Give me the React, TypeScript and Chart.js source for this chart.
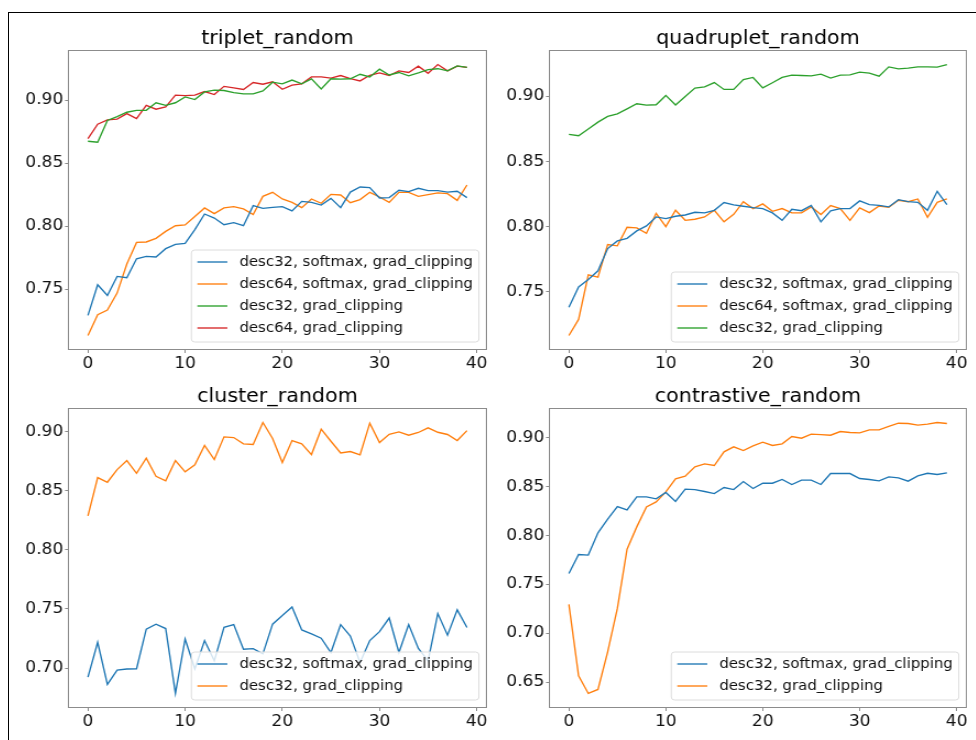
import React, { useEffect, useRef } from "react";
import { Chart, registerables } from "chart.js";

Chart.register(...registerables);

const FONT = "'DejaVu Sans', 'Liberation Sans', sans-serif";

const EPOCHS = [0, 1, 2, 3, 4, 5, 6, 7, 8, 9, 10, 11, 12, 13, 14, 15, 16, 17, 18, 19, 20, 21, 22, 23, 24, 25, 26, 27, 28, 29, 30, 31, 32, 33, 34, 35, 36, 37, 38, 39];
const X_TICKS = [0, 10, 20, 30, 40];

const LABEL_D32_SM = "desc32, softmax, grad_clipping";
const LABEL_D64_SM = "desc64, softmax, grad_clipping";
const LABEL_D32 = "desc32, grad_clipping";
const LABEL_D64 = "desc64, grad_clipping";

// triplet_random
const TL_BLUE = [0.7294, 0.7537, 0.7452, 0.7603, 0.7593, 0.7743, 0.7762, 0.7757, 0.7823, 0.7857, 0.7865, 0.7974, 0.8098, 0.8066, 0.8013, 0.8029, 0.8005, 0.8164, 0.8143, 0.8151, 0.8156, 0.8122, 0.8198, 0.819, 0.8169, 0.8222, 0.8148, 0.8272, 0.8312, 0.8307, 0.8225, 0.8228, 0.8286, 0.8275, 0.8302, 0.8283, 0.8283, 0.8272, 0.8278, 0.8228];
const TL_ORANGE = [0.7135, 0.7299, 0.7336, 0.7471, 0.7701, 0.7873, 0.7876, 0.7905, 0.796, 0.8005, 0.8011, 0.8079, 0.8146, 0.8101, 0.8146, 0.8156, 0.8138, 0.8093, 0.8238, 0.827, 0.8217, 0.819, 0.8148, 0.8217, 0.8183, 0.8254, 0.8249, 0.8188, 0.8212, 0.827, 0.8233, 0.819, 0.827, 0.827, 0.8238, 0.8251, 0.8265, 0.8259, 0.8206, 0.8328];
const TL_GREEN = [0.8675, 0.8667, 0.884, 0.887, 0.8905, 0.892, 0.892, 0.898, 0.896, 0.898, 0.9026, 0.9005, 0.9066, 0.908, 0.9077, 0.906, 0.905, 0.905, 0.9074, 0.9143, 0.913, 0.916, 0.913, 0.917, 0.909, 0.917, 0.9167, 0.917, 0.9206, 0.9185, 0.9246, 0.92, 0.922, 0.9193, 0.9217, 0.9243, 0.925, 0.9233, 0.9272, 0.926];
const TL_RED = [0.8696, 0.881, 0.8844, 0.885, 0.8894, 0.8854, 0.896, 0.8929, 0.8947, 0.904, 0.9037, 0.904, 0.9069, 0.9045, 0.911, 0.9098, 0.9085, 0.914, 0.9127, 0.9146, 0.9087, 0.912, 0.913, 0.9185, 0.9185, 0.9175, 0.9196, 0.9172, 0.9153, 0.9198, 0.9217, 0.9196, 0.9233, 0.922, 0.927, 0.9214, 0.9283, 0.9233, 0.927, 0.926];
const TL_Y_TICKS = [0.75, 0.8, 0.85, 0.9];

// quadruplet_random
const TR_BLUE = [0.7382, 0.7538, 0.7594, 0.7661, 0.7832, 0.7891, 0.7911, 0.7968, 0.8006, 0.8075, 0.8062, 0.808, 0.809, 0.8111, 0.8106, 0.8126, 0.8185, 0.8167, 0.8157, 0.8146, 0.8139, 0.8106, 0.8049, 0.8134, 0.8123, 0.8164, 0.8037, 0.8121, 0.8139, 0.8139, 0.8198, 0.8169, 0.8164, 0.8152, 0.8208, 0.8192, 0.8187, 0.8126, 0.8272, 0.8169];
const TR_ORANGE = [0.7165, 0.7288, 0.763, 0.7612, 0.7863, 0.7853, 0.7996, 0.7991, 0.795, 0.8103, 0.8001, 0.8126, 0.8049, 0.8057, 0.8075, 0.8126, 0.8037, 0.8095, 0.8192, 0.8139, 0.8175, 0.8118, 0.8139, 0.8106, 0.8106, 0.8152, 0.8093, 0.8162, 0.8139, 0.8049, 0.8144, 0.8108, 0.8159, 0.8149, 0.8203, 0.8192, 0.8213, 0.8072, 0.8187, 0.8213];
const TR_GREEN = [0.8709, 0.8698, 0.875, 0.8803, 0.8847, 0.8867, 0.8905, 0.8944, 0.8934, 0.8936, 0.9008, 0.8934, 0.9, 0.9064, 0.9074, 0.9107, 0.9054, 0.9054, 0.913, 0.9146, 0.9066, 0.9105, 0.9146, 0.9164, 0.9161, 0.9158, 0.9171, 0.9141, 0.9164, 0.9166, 0.9187, 0.9179, 0.9156, 0.9227, 0.9212, 0.9217, 0.9227, 0.9227, 0.9225, 0.9245];
const TR_Y_TICKS = [0.75, 0.8, 0.85, 0.9];

// cluster_random
const BL_BLUE = [0.6923, 0.7218, 0.6861, 0.6983, 0.6992, 0.6994, 0.7329, 0.7371, 0.7334, 0.6785, 0.7246, 0.6993, 0.7232, 0.7061, 0.7345, 0.7367, 0.7159, 0.7164, 0.712, 0.7371, 0.7444, 0.7516, 0.7322, 0.7288, 0.7252, 0.7131, 0.7367, 0.7271, 0.7046, 0.7232, 0.7308, 0.7423, 0.7131, 0.7367, 0.7166, 0.7061, 0.7461, 0.7278, 0.7492, 0.7343];
const BL_ORANGE = [0.8286, 0.8611, 0.8571, 0.8678, 0.8755, 0.8647, 0.8774, 0.8622, 0.8583, 0.8755, 0.8659, 0.8718, 0.8882, 0.8763, 0.8955, 0.8949, 0.8896, 0.889, 0.9076, 0.8941, 0.8738, 0.8924, 0.8896, 0.8805, 0.902, 0.8918, 0.8819, 0.8831, 0.8803, 0.9071, 0.8907, 0.8977, 0.8997, 0.8969, 0.8992, 0.9031, 0.8994, 0.8975, 0.8924, 0.9008];
const BL_Y_TICKS = [0.7, 0.75, 0.8, 0.85, 0.9];

// contrastive_random
const BR_BLUE = [0.7612, 0.7806, 0.78, 0.8028, 0.8168, 0.8297, 0.8263, 0.8396, 0.8396, 0.8376, 0.8441, 0.8349, 0.8475, 0.8471, 0.8451, 0.843, 0.8492, 0.8471, 0.8553, 0.8482, 0.8536, 0.8536, 0.8574, 0.8523, 0.8567, 0.8567, 0.8523, 0.8635, 0.8635, 0.8635, 0.8584, 0.8574, 0.856, 0.8601, 0.8591, 0.8557, 0.8611, 0.8638, 0.8625, 0.8642];
const BR_ORANGE = [0.7295, 0.6565, 0.6384, 0.6425, 0.681, 0.7254, 0.7861, 0.8089, 0.8294, 0.8345, 0.8447, 0.858, 0.8608, 0.8703, 0.8734, 0.8717, 0.8857, 0.8908, 0.887, 0.8918, 0.8956, 0.8922, 0.8939, 0.9014, 0.8997, 0.9038, 0.9034, 0.9027, 0.9065, 0.9055, 0.9051, 0.9082, 0.9082, 0.9119, 0.915, 0.9147, 0.913, 0.914, 0.9157, 0.9147];
const BR_Y_TICKS = [0.65, 0.7, 0.75, 0.8, 0.85, 0.9];

const C_BLUE = "#1f77b4";
const C_ORANGE = "#ff7f0e";
const C_GREEN = "#2ca02c";
const C_RED = "#d62728";

type Series = { label: string; values: number[]; color: string };
type Panel = {
  title: string;
  series: Series[];
  yTicks: number[];
  area: { left: number; top: number; right: number; bottom: number };
};

const PANELS: Panel[] = [
  {
    title: "triplet_random",
    series: [
      { label: LABEL_D32_SM, values: TL_BLUE, color: C_BLUE },
      { label: LABEL_D64_SM, values: TL_ORANGE, color: C_ORANGE },
      { label: LABEL_D32, values: TL_GREEN, color: C_GREEN },
      { label: LABEL_D64, values: TL_RED, color: C_RED },
    ],
    yTicks: TL_Y_TICKS,
    area: { left: 69, top: 51, right: 486, bottom: 349 },
  },
  {
    title: "quadruplet_random",
    series: [
      { label: LABEL_D32_SM, values: TR_BLUE, color: C_BLUE },
      { label: LABEL_D64_SM, values: TR_ORANGE, color: C_ORANGE },
      { label: LABEL_D32, values: TR_GREEN, color: C_GREEN },
    ],
    yTicks: TR_Y_TICKS,
    area: { left: 550, top: 51, right: 966, bottom: 349 },
  },
  {
    title: "cluster_random",
    series: [
      { label: LABEL_D32_SM, values: BL_BLUE, color: C_BLUE },
      { label: LABEL_D32, values: BL_ORANGE, color: C_ORANGE },
    ],
    yTicks: BL_Y_TICKS,
    area: { left: 69, top: 409, right: 486, bottom: 707 },
  },
  {
    title: "contrastive_random",
    series: [
      { label: LABEL_D32_SM, values: BR_BLUE, color: C_BLUE },
      { label: LABEL_D32, values: BR_ORANGE, color: C_ORANGE },
    ],
    yTicks: BR_Y_TICKS,
    area: { left: 550, top: 409, right: 966, bottom: 707 },
  },
];

// The reference figure is stretched horizontally; canvases are drawn narrow and widened by SX.
const SX = 1.1;
const Y_AXIS_W = 50; // canvas units
const TOP_SPACE = 45;
const X_AXIS_H = 33;
const RIGHT_PAD = 10; // canvas units
const SPINE = "#8c8c8c";
const TITLE_SIZE = 18.8;
const TICK_SIZE = 15.5;
const LEGEND_SIZE = 13.6;

const legendPlugin = {
  id: "mplLegend",
  afterDatasetsDraw(chart: any) {
    const ctx = chart.ctx;
    const a = chart.chartArea;
    const ds = chart.data.datasets;
    ctx.save();
    ctx.font = `${LEGEND_SIZE}px ${FONT}`;
    let tw = 0;
    ds.forEach((d: any) => {
      tw = Math.max(tw, ctx.measureText(d.label).width);
    });
    const padL = 6 / SX;
    const handle = 30 / SX;
    const textOff = 48 / SX;
    const padR = 6 / SX;
    const w = textOff + tw + padR;
    const h = 12 + (ds.length - 1) * 22 + 14;
    const x = a.right - 7 / SX - w;
    const y = a.bottom - 7 - h;
    const r = 3;
    ctx.beginPath();
    ctx.moveTo(x + r, y);
    ctx.lineTo(x + w - r, y);
    ctx.arcTo(x + w, y, x + w, y + r, r);
    ctx.lineTo(x + w, y + h - r);
    ctx.arcTo(x + w, y + h, x + w - r, y + h, r);
    ctx.lineTo(x + r, y + h);
    ctx.arcTo(x, y + h, x, y + h - r, r);
    ctx.lineTo(x, y + r);
    ctx.arcTo(x, y, x + r, y, r);
    ctx.closePath();
    ctx.fillStyle = "rgba(255,255,255,0.8)";
    ctx.fill();
    ctx.strokeStyle = "#dcdcdc";
    ctx.lineWidth = 1;
    ctx.stroke();
    ds.forEach((d: any, i: number) => {
      const cy = y + 12 + i * 22;
      ctx.beginPath();
      ctx.moveTo(x + padL, cy);
      ctx.lineTo(x + padL + handle, cy);
      ctx.strokeStyle = d.borderColor;
      ctx.lineWidth = d.borderWidth;
      ctx.stroke();
      ctx.fillStyle = "#111";
      ctx.textAlign = "left";
      ctx.textBaseline = "middle";
      ctx.fillText(d.label, x + textOff, cy);
    });
    ctx.restore();
  },
  afterDraw(chart: any) {
    const ctx = chart.ctx;
    const a = chart.chartArea;
    ctx.save();
    ctx.strokeStyle = SPINE;
    ctx.lineWidth = 1;
    ctx.strokeRect(
      Math.round(a.left) - 0.5,
      Math.round(a.top) - 0.5,
      Math.round(a.right - a.left) + 1,
      Math.round(a.bottom - a.top) + 1
    );
    ctx.restore();
  },
};

function dataRange(series: Series[]) {
  let lo = Infinity;
  let hi = -Infinity;
  series.forEach((s) =>
    s.values.forEach((v) => {
      lo = Math.min(lo, v);
      hi = Math.max(hi, v);
    })
  );
  const m = (hi - lo) * 0.05;
  return { min: lo - m, max: hi + m };
}

function Subplot({ panel }: { panel: Panel }) {
  const ref = useRef<HTMLCanvasElement | null>(null);
  const a = panel.area;
  const cw = Math.round((a.right - a.left) / SX + Y_AXIS_W + RIGHT_PAD);
  const ch = a.bottom - a.top + TOP_SPACE + X_AXIS_H;
  useEffect(() => {
    if (!ref.current) return;
    const yr = dataRange(panel.series);
    const xm = (EPOCHS[EPOCHS.length - 1] - EPOCHS[0]) * 0.05;
    const chart = new Chart(ref.current, {
      type: "line",
      data: {
        datasets: panel.series.map((s) => ({
          label: s.label,
          data: s.values.map((v, i) => ({ x: EPOCHS[i], y: v })),
          borderColor: s.color,
          backgroundColor: s.color,
          borderWidth: 1.35,
          pointRadius: 0,
          tension: 0,
          fill: false,
        })),
      },
      options: {
        responsive: false,
        animation: false,
        devicePixelRatio: 1,
        layout: { padding: { left: 0, top: 0, right: RIGHT_PAD, bottom: 0 } },
        plugins: {
          legend: { display: false },
          tooltip: { enabled: false },
          title: {
            display: true,
            fullSize: false,
            text: panel.title,
            color: "#000",
            font: { family: FONT, size: TITLE_SIZE, weight: "normal", lineHeight: 1 },
            padding: { top: TOP_SPACE - 11.5 - TITLE_SIZE / 2, bottom: 11.5 - TITLE_SIZE / 2 },
          },
        },
        scales: {
          x: {
            type: "linear",
            min: EPOCHS[0] - xm,
            max: EPOCHS[EPOCHS.length - 1] + xm,
            afterBuildTicks: (s: any) => {
              s.ticks = X_TICKS.map((v) => ({ value: v }));
            },
            afterFit: (s: any) => {
              s.height = X_AXIS_H;
              s.paddingLeft = 0;
              s.paddingRight = 0;
            },
            grid: {
              drawOnChartArea: false,
              drawTicks: true,
              tickLength: 4,
              tickColor: SPINE,
              tickWidth: 1,
            },
            border: { display: false },
            ticks: {
              color: "#111",
              font: { family: FONT, size: TICK_SIZE },
              padding: 1.5,
              maxRotation: 0,
              callback: (v: any) => String(v),
            },
          },
          y: {
            type: "linear",
            min: yr.min,
            max: yr.max,
            afterBuildTicks: (s: any) => {
              s.ticks = panel.yTicks.map((v) => ({ value: v }));
            },
            afterFit: (s: any) => {
              s.width = Y_AXIS_W;
              s.paddingTop = 0;
              s.paddingBottom = 0;
            },
            grid: {
              drawOnChartArea: false,
              drawTicks: true,
              tickLength: 3.6,
              tickColor: SPINE,
              tickWidth: 1,
            },
            border: { display: false },
            ticks: {
              color: "#111",
              font: { family: FONT, size: TICK_SIZE },
              padding: 1.6,
              callback: (v: any) => Number(v).toFixed(2),
            },
          },
        },
      },
      plugins: [legendPlugin],
    } as any);
    return () => chart.destroy();
  }, [panel]);
  return (
    <div
      style={{
        position: "absolute",
        left: a.left - Y_AXIS_W * SX,
        top: a.top - TOP_SPACE,
        width: cw,
        height: ch,
        transform: `scaleX(${SX})`,
        transformOrigin: "0 0",
      }}
    >
      <canvas ref={ref} width={cw} height={ch} style={{ width: cw, height: ch, display: "block" }} />
    </div>
  );
}

export default function App() {
  return (
    <div
      style={{
        position: "fixed",
        left: 0,
        top: 0,
        width: 976,
        height: 740,
        overflow: "hidden",
        background: "#fff",
      }}
    >
      <div
        style={{
          position: "absolute",
          left: 8,
          top: 12,
          width: 1000,
          height: 800,
          borderLeft: "1px solid #000",
          borderTop: "1px solid #000",
        }}
      />
      {PANELS.map((p) => (
        <Subplot key={p.title} panel={p} />
      ))}
    </div>
  );
}
